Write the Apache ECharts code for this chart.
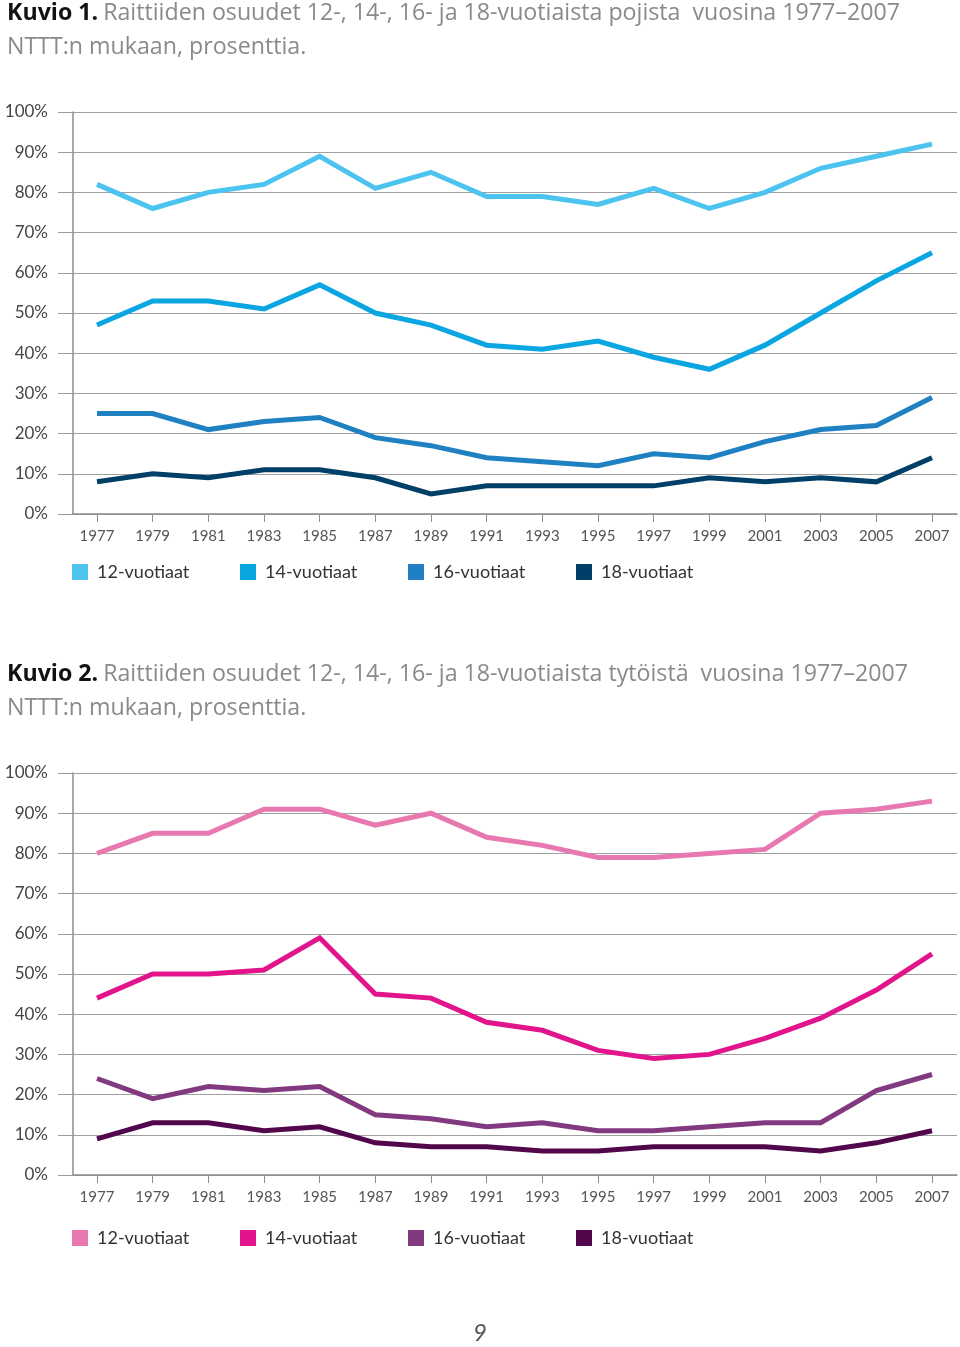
<!DOCTYPE html>
<html>
<head>
<meta charset="utf-8">
<script src="https://cdn.jsdelivr.net/npm/echarts@6/dist/echarts.min.js"></script>
<style>
html,body{margin:0;padding:0;background:#fff;}
#c{width:960px;height:1347px;}
</style>
</head>
<body>
<div id="c"></div>
<script>
const years = [1977,1979,1981,1983,1985,1987,1989,1991,1993,1995,1997,1999,2001,2003,2005,2007];
const seriesNames = ['12-vuotiaat','14-vuotiaat','16-vuotiaat','18-vuotiaat'];
const yTicks = [0,10,20,30,40,50,60,70,80,90,100];

// Kuvio 1: pojat
const boys12 = [82,76,80,82,89,81,85,79,79,77,81,76,80,86,89,92];
const boys14 = [47,53,53,51,57,50,47,42,41,43,39,36,42,50,58,65];
const boys16 = [25,25,21,23,24,19,17,14,13,12,15,14,18,21,22,29];
const boys18 = [8,10,9,11,11,9,5,7,7,7,7,9,8,9,8,14];

// Kuvio 2: tytöt
const girls12 = [80,85,85,91,91,87,90,84,82,79,79,80,81,90,91,93];
const girls14 = [44,50,50,51,59,45,44,38,36,31,29,30,34,39,46,55];
const girls16 = [24,19,22,21,22,15,14,12,13,11,11,12,13,13,21,25];
const girls18 = [9,13,13,11,12,8,7,7,6,6,7,7,7,6,8,11];

const title1 = ['Kuvio 1.', 'Raittiiden osuudet 12-, 14-, 16- ja 18-vuotiaista pojista  vuosina 1977–2007', 'NTTT:n mukaan, prosenttia.'];
const title2 = ['Kuvio 2.', 'Raittiiden osuudet 12-, 14-, 16- ja 18-vuotiaista tytöistä  vuosina 1977–2007', 'NTTT:n mukaan, prosenttia.'];
const pageNumber = '9';

const boysColors = ['#4cc4ef','#0aa6e2','#1f80c2','#003f68'];
const girlsColors = ['#e878b0','#e2148c','#813a7f','#52064b'];

const FONT = 'Lato, "Open Sans", sans-serif';
const TFONT = '"Open Sans", Lato, sans-serif';
const GRID_LEFT = 73, GRID_W = 884;
const X0 = 97, X1 = 932;
const pxPerYear = (X1 - X0) / (2007 - 1977);
const xMin = 1977 - (X0 - GRID_LEFT) / pxPerYear;
const xMax = xMin + GRID_W / pxPerYear;

function pairs(vals){ return vals.map((v,i)=>[years[i], v]); }

function makeX(gi){
  return {
    type:'value', gridIndex:gi, min:xMin, max:xMax,
    axisLine:{show:true, lineStyle:{color:'#8c8c8c', width:1.5}},
    axisTick:{show:true, customValues:years, length:8, inside:false, lineStyle:{color:'#8c8c8c', width:1}},
    axisLabel:{show:true, customValues:years, margin:15, color:'#555', fontSize:15, fontFamily:FONT, formatter:v=>String(v)},
    splitLine:{show:false}
  };
}
function makeY(gi){
  return {
    type:'value', gridIndex:gi, min:0, max:100, interval:10,
    axisLine:{show:true, lineStyle:{color:'#8c8c8c', width:1.5}},
    axisTick:{show:true, length:15, lineStyle:{color:'#9a9a9a', width:1}},
    axisLabel:{margin:25, color:'#444', fontSize:17, fontFamily:FONT, formatter:v=>v+'%'},
    splitLine:{show:true, lineStyle:{color:'#a0a0a0', width:1}}
  };
}
function makeSeries(gi, dataArr, colors){
  return dataArr.map((d,i)=>({
    type:'line', name: seriesNames[i] + (gi ? ' ' : ''), xAxisIndex:gi, yAxisIndex:gi,
    data:pairs(d), symbol:'none', smooth:false, animation:false,
    lineStyle:{color:colors[i], width:5, cap:'butt', join:'miter'},
    itemStyle:{color:colors[i]}
  }));
}
const legendLefts = [72,240,408,576];
function makeLegends(gi, top, colors){
  return seriesNames.map((n,i)=>({
    data:[n + (gi ? ' ' : '')], left:legendLefts[i], top:top, icon:'rect',
    itemWidth:16, itemHeight:16, padding:0, selectedMode:false,
    textStyle:{color:'#333', fontSize:18, fontFamily:FONT, padding:[0,0,0,4]}
  }));
}
function makeTitle(t, top){
  return {
    text:'{b|'+t[0]+'} {n|'+t[1]+'}\n{n|'+t[2]+'}',
    left:7, top:top, padding:0,
    textStyle:{
      lineHeight:34,
      rich:{
        b:{fontFamily:TFONT, fontSize:23.2, fontWeight:'bold', color:'#111', lineHeight:34},
        n:{fontFamily:TFONT, fontSize:23.2, fontWeight:'normal', color:'#8a8a8a', lineHeight:34}
      }
    }
  };
}

const chart = echarts.init(document.getElementById('c'), null, {renderer:'canvas'});
chart.setOption({
  backgroundColor:'#fff',
  animation:false,
  title:[
    makeTitle(title1, -4),
    makeTitle(title2, 657),
    {text:pageNumber, left:'center', top:1321, padding:0,
     textStyle:{fontFamily:FONT, fontSize:24, fontStyle:'italic', fontWeight:'normal', color:'#555'}}
  ],
  grid:[
    {left:GRID_LEFT, top:112, width:GRID_W, height:402},
    {left:GRID_LEFT, top:773, width:GRID_W, height:402}
  ],
  xAxis:[makeX(0), makeX(1)],
  yAxis:[makeY(0), makeY(1)],
  legend:[].concat(makeLegends(0, 563, boysColors), makeLegends(1, 1229, girlsColors)),
  series:[].concat(
    makeSeries(0, [boys12,boys14,boys16,boys18], boysColors),
    makeSeries(1, [girls12,girls14,girls16,girls18], girlsColors)
  )
});
</script>
</body>
</html>
